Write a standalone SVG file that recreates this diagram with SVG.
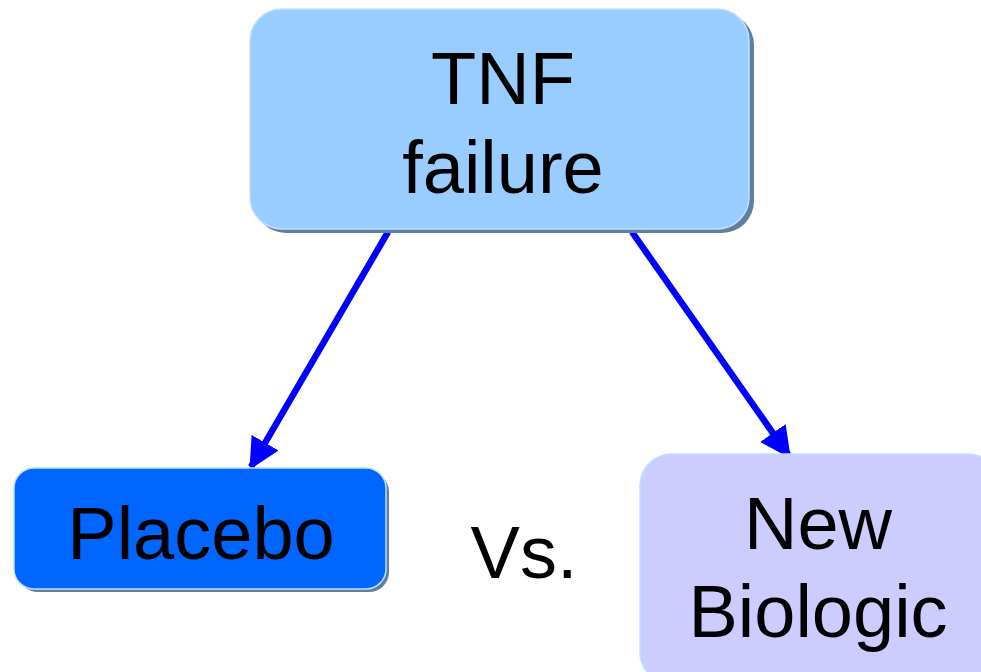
<svg xmlns="http://www.w3.org/2000/svg" width="981" height="672" viewBox="0 0 981 672">
  <style>
    .shadow { fill: #5f7f9f; }
    .label { font-family: "Liberation Sans", Arial, sans-serif; font-size: 74px; fill: #000; text-anchor: middle; }
    .edge { stroke: #0000ff; stroke-width: 6.5; fill: none; }
  </style>
  <defs>
    <marker id="arrow" viewBox="0 0 10 10" refX="9" refY="5" markerWidth="4.8" markerHeight="5" markerUnits="strokeWidth" orient="auto">
      <path d="M0,0 L10,5 L0,10 Z" fill="#0000ff"/>
    </marker>
  </defs>
  <rect width="981" height="672" fill="#ffffff"/>

  <g id="connectors">
    <line class="edge" x1="388" y1="232" x2="251" y2="467" marker-end="url(#arrow)"/>
    <line class="edge" x1="632" y1="232" x2="789" y2="456" marker-end="url(#arrow)"/>
  </g>

  <g id="tnf-failure">
    <rect class="shadow" x="254" y="13" width="500" height="220" rx="32"/>
    <rect x="250" y="9" width="499" height="220" rx="32" fill="#99ccff" stroke="#bfe0ff" stroke-width="1.5"/>
    <text class="label" x="503" y="104">TNF</text>
    <text class="label" x="503" y="193">failure</text>
  </g>

  <g id="placebo">
    <rect class="shadow" x="18" y="472" width="371" height="120" rx="20"/>
    <rect x="14" y="468" width="372" height="121" rx="20" fill="#0066ff" stroke="#bfe0ff" stroke-width="1.5"/>
    <text class="label" x="201" y="559">Placebo</text>
  </g>

  <g id="versus">
    <text class="label" x="524" y="578">Vs.</text>
  </g>

  <g id="new-biologic">
    <rect class="shadow" x="644" y="458" width="360" height="230" rx="32"/>
    <rect x="640" y="454" width="360" height="230" rx="32" fill="#ccccff" stroke="#bfe0ff" stroke-width="1.5"/>
    <text class="label" x="818" y="549">New</text>
    <text class="label" x="818" y="637">Biologic</text>
  </g>
</svg>
